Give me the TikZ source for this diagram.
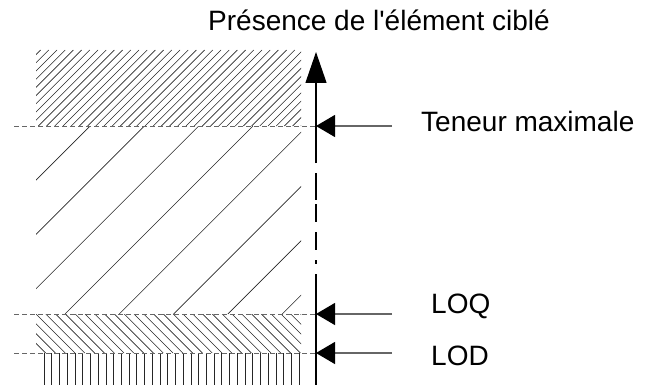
\documentclass[tikz,border=0pt]{standalone}
\usepackage{fontspec}
\setmainfont{Liberation Sans}[Ligatures=TeXOff]
\usetikzlibrary{arrows.meta}
\begin{document}
\begin{tikzpicture}[x=1pt,y=-1pt,
  hatch/.style={line width=0.6pt,black!85},
  guide/.style={line width=1pt,black!60,dash pattern=on 5pt off 3pt},
  pointer/.style={line width=1.2pt,black!60,-{Triangle[length=19pt,width=22pt,color=black]}},
  axisline/.style={line width=1.2pt,black},
  lbl/.style={font=\fontsize{28}{32}\selectfont,inner sep=0pt,anchor=base west}]
\useasboundingbox (0,0) rectangle (652,385);
% top dense hatch
\begin{scope}
\clip (36,50) rectangle (301,126);
\foreach \i in {0,...,44} \draw[hatch] (\i*8.2-60,126) -- ++(76,-76);
\end{scope}
% middle sparse hatch
\begin{scope}
\clip (36,126) rectangle (301,314);
\foreach \i in {-5,...,5} \draw[hatch] (65+\i*54.3,314) -- ++(188,-188);
\end{scope}
% LOQ-LOD hatch
\begin{scope}
\clip (36,314) rectangle (301,353);
\foreach \i in {-5,...,28} \draw[hatch] (36+\i*9.8,314) -- ++(39,39);
\end{scope}
% vertical lines
\foreach \i in {0,...,33} \draw[hatch] (44+\i*7.73,353) -- (44+\i*7.73,385);
% guides
\coordinate (g1a) at (14,126); \coordinate (g1b) at (316,126);
\coordinate (g2a) at (14,314); \coordinate (g2b) at (316,314);
\coordinate (g3a) at (14,353); \coordinate (g3b) at (316,353);
\draw[guide] (g1a) -- (g1b);
\draw[guide] (g2a) -- (g2b);
\draw[guide] (g3a) -- (g3b);
% axis
\coordinate (top) at (316,52);
\coordinate (s1) at (316,163);
\draw[axisline,-{Triangle[length=31pt,width=21pt]}] (s1) -- (top);
\draw[axisline] (316,173) -- (316,200);
\draw[axisline] (316,204) -- (316,222);
\draw[axisline] (316,232) -- (316,250);
\draw[axisline] (316,260) -- (316,264);
\draw[axisline] (316,274) -- (316,385);
% pointers
\coordinate (p1) at (392,126);
\coordinate (p2) at (392,314);
\coordinate (p3) at (392,353);
\draw[pointer] (p1) -- (g1b);
\draw[pointer] (p2) -- (g2b);
\draw[pointer] (p3) -- (g3b);
% labels
\node[lbl] (title) at (208,31) {Présence de l'élément ciblé};
\node[lbl] (tm) at (421,131) {Teneur maximale};
\node[lbl] (loq) at (431,313) {LOQ};
\node[lbl] (lod) at (431,365) {LOD};
\end{tikzpicture}
\end{document}
